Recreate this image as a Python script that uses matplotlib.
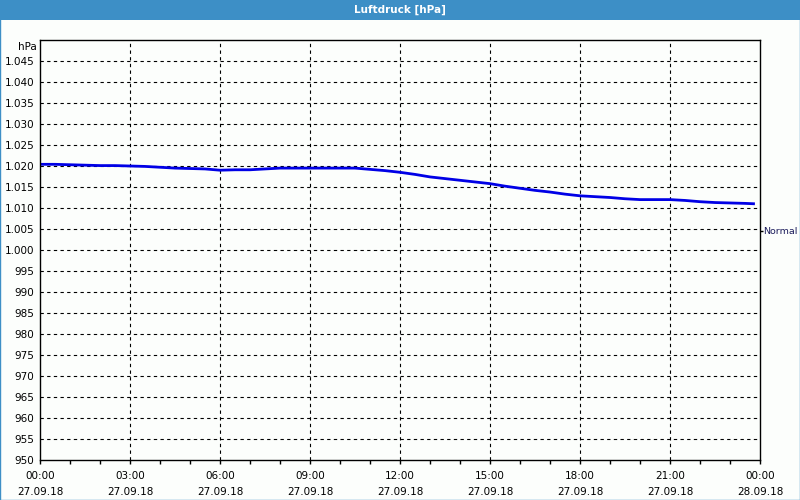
import matplotlib
matplotlib.use("Agg")
import matplotlib.pyplot as plt
from matplotlib.patches import Rectangle
from matplotlib.ticker import FuncFormatter, MultipleLocator

# Luftdruck, 27.09.18 00:00 bis 28.09.18 00:00 (Stunden seit Mitternacht)
hours = [0.0, 0.5, 1.0, 1.5, 2.0, 2.5, 3.0, 3.5, 4.0, 4.5, 5.0, 5.5,
         6.0, 6.5, 7.0, 7.5, 8.0, 8.5, 9.0, 9.5, 10.0, 10.5, 11.0, 11.5,
         12.0, 12.5, 13.0, 13.5, 14.0, 14.5, 15.0, 15.5, 16.0, 16.5, 17.0, 17.5,
         18.0, 18.5, 19.0, 19.5, 20.0, 20.5, 21.0, 21.5, 22.0, 22.5, 23.0, 23.5,
         23.83]
pressure = [1020.4, 1020.4, 1020.3, 1020.2, 1020.1, 1020.1, 1020.0, 1019.9,
            1019.7, 1019.5, 1019.4, 1019.3, 1019.0, 1019.1, 1019.1, 1019.3,
            1019.5, 1019.5, 1019.5, 1019.5, 1019.5, 1019.5, 1019.2, 1018.9,
            1018.5, 1018.0, 1017.4, 1017.0, 1016.6, 1016.2, 1015.8, 1015.2,
            1014.7, 1014.2, 1013.8, 1013.3, 1012.9, 1012.7, 1012.5, 1012.2,
            1012.0, 1012.0, 1012.0, 1011.8, 1011.5, 1011.3, 1011.2, 1011.1,
            1011.0]
normal_value = 1004.6

x_ticks = [0, 3, 6, 9, 12, 15, 18, 21, 24]
x_labels = ["00:00\n27.09.18", "03:00\n27.09.18", "06:00\n27.09.18",
            "09:00\n27.09.18", "12:00\n27.09.18", "15:00\n27.09.18",
            "18:00\n27.09.18", "21:00\n27.09.18", "00:00\n28.09.18"]

BAR = "#3d8fc6"
plt.rcParams["font.family"] = ["DejaVu Sans"]
plt.rcParams["font.size"] = 7.5

fig = plt.figure(figsize=(8, 5), dpi=100, facecolor="#fcfefc")

# window frame + title bar
fig.patches.append(Rectangle((0, 0.96), 1, 0.04, transform=fig.transFigure,
                             facecolor=BAR, edgecolor="none"))
fig.patches.append(Rectangle((0.0006, 0.001), 0.9988, 0.998, transform=fig.transFigure,
                             facecolor="none", edgecolor=BAR, lw=1))
fig.text(0.5, 0.98, "Luftdruck [hPa]", color="white", fontweight="bold",
         ha="center", va="center", fontsize=7.5)

ax = fig.add_axes([0.05, 0.08, 0.90, 0.84])
ax.set_facecolor("#fcfefc")
ax.plot(hours, pressure, color="#0000e6", lw=2.0, solid_capstyle="butt")

ax.set_xlim(0, 24)
ax.set_ylim(950, 1050)
ax.set_yticks(list(range(950, 1046, 5)))
ax.yaxis.set_major_formatter(FuncFormatter(
    lambda v, p: f"{int(v):,}".replace(",", ".")))
ax.set_xticks(x_ticks)
ax.set_xticklabels(x_labels, linespacing=1.7)
ax.xaxis.set_minor_locator(MultipleLocator(1))
ax.tick_params(axis="y", length=0, pad=4, colors="black")
ax.tick_params(axis="x", which="both", length=3, width=1, pad=5, colors="black")

for s in ax.spines.values():
    s.set_color("black")
    s.set_linewidth(1)

for v in range(955, 1046, 5):
    ax.axhline(v, color="black", lw=0.8, ls=(0, (3, 3)), zorder=0)
for h in x_ticks[1:-1]:
    ax.axvline(h, color="black", lw=0.8, ls=(0, (3, 3)), zorder=0)

ax.text(-0.005, 0.995, "hPa", transform=ax.transAxes, ha="right", va="top")

ax2 = ax.twinx()
ax2.set_ylim(950, 1050)
ax2.set_yticks([normal_value])
ax2.set_yticklabels(["Normal"], color="#1c1c5c", fontsize=6.8)
ax2.tick_params(axis="y", length=2, width=1, pad=0.5)
for s in ax2.spines.values():
    s.set_visible(False)

fig.savefig("out.png", dpi=100, facecolor=fig.get_facecolor())
